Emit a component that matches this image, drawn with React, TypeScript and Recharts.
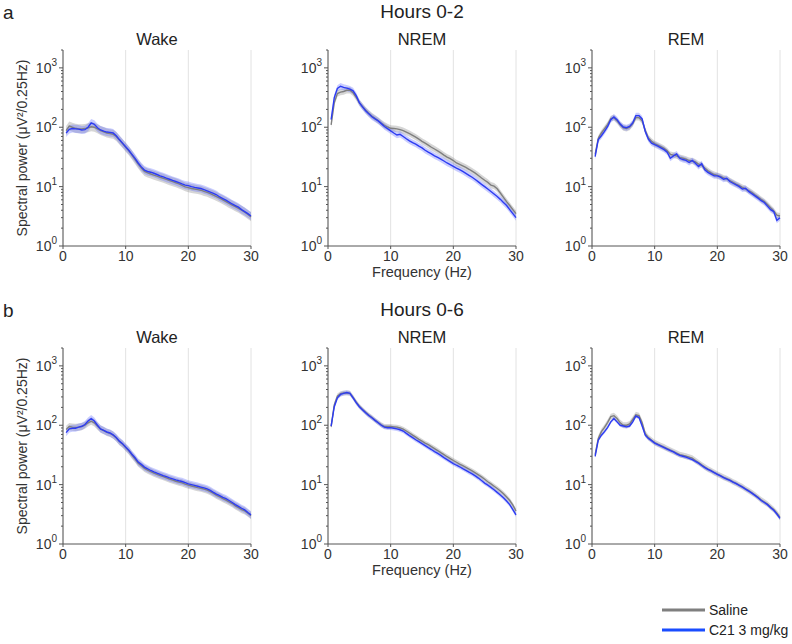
import React from "react";
import {
  ComposedChart,
  Line,
  Area,
  XAxis,
  YAxis,
  CartesianGrid,
} from "recharts";

// frequency bins (Hz)
const freqs = [
  0.5, 1, 1.5, 2, 2.5, 3, 3.5, 4, 4.5, 5,
  5.5, 6, 6.5, 7, 7.5, 8, 8.5, 9, 9.5, 10,
  10.5, 11, 11.5, 12, 12.5, 13, 13.5, 14, 14.5, 15,
  15.5, 16, 16.5, 17, 17.5, 18, 18.5, 19, 19.5, 20,
  20.5, 21, 21.5, 22, 22.5, 23, 23.5, 24, 24.5, 25,
  25.5, 26, 26.5, 27, 27.5, 28, 28.5, 29, 29.5, 30,
];

// Hours 0-2
const wakeSaline02 = [
  88, 105, 100, 96, 94, 94, 95, 98, 102, 100,
  94, 88, 84, 80, 78, 76, 70, 61, 53, 46,
  40, 34, 28.5, 24, 20.5, 18, 17, 16.3, 15.6, 15,
  14.4, 13.8, 13.2, 12.6, 12.1, 11.6, 11.1, 10.5, 9.9, 9.6,
  9.3, 9.1, 8.9, 8.7, 8.3, 8.0, 7.6, 7.2, 6.8, 6.4,
  6.0, 5.6, 5.2, 4.9, 4.6, 4.3, 4.0, 3.7, 3.4, 3.1,
];
const wakeC21_02 = [
  80, 92, 95, 94, 93, 90, 91, 100, 118, 112,
  98, 90, 86, 83, 82, 80, 72, 62, 54, 47,
  41, 35, 30, 25, 21.5, 19, 18, 17.5, 16.8, 16,
  15.2, 14.6, 13.9, 13.3, 12.7, 12.2, 11.7, 11.1, 10.6, 10.4,
  10.0, 9.7, 9.5, 9.3, 8.9, 8.5, 8.1, 7.7, 7.3, 6.7,
  6.3, 5.9, 5.5, 5.1, 4.8, 4.5, 4.1, 3.8, 3.5, 3.2,
];
const nremSaline02 = [
  110, 260, 370, 390, 400, 420, 420, 380, 320, 260,
  225, 195, 172, 155, 142, 130, 118, 108, 101, 96,
  95, 94, 91, 88, 83, 78, 73, 68, 63, 58,
  54, 50, 46, 43, 40, 37, 34, 31.5, 29.5, 27.5,
  25, 23.6, 22.3, 21, 19.6, 18.2, 16.9, 15.4, 14, 12.8,
  11.8, 10.6, 10.2, 9.2, 7.8, 6.6, 5.6, 4.8, 4.1, 3.5,
];
const nremC21_02 = [
  135, 316, 450, 490, 470, 455, 440, 410, 340, 260,
  220, 190, 168, 150, 138, 128, 115, 103, 95, 87,
  80, 74, 76, 70, 64, 59, 55, 52, 48, 45,
  41, 38, 35.5, 33, 31, 29, 27, 25, 23.5, 22,
  20.5, 19.3, 18, 16.7, 15.5, 14.4, 13.2, 12, 10.9, 10,
  9.1, 8.3, 7.5, 6.8, 6.1, 5.4, 4.8, 4.1, 3.5, 3.0,
];
const remSaline02 = [
  35, 65, 80, 95, 112, 140, 145, 128, 110, 98,
  95, 100, 115, 145, 145, 128, 88, 66, 58, 53,
  50, 47, 44, 40, 35, 34, 33, 31, 30, 29,
  27.5, 27, 26, 24, 23, 20.5, 18.5, 17, 16, 15.5,
  14.8, 14, 13.5, 12.6, 11.8, 11, 10.4, 9.7, 9.2, 8.6,
  8.0, 7.3, 6.7, 6.1, 5.6, 5.0, 4.4, 3.9, 3.3, 3.2,
];
const remC21_02 = [
  32, 62, 72, 85, 103, 134, 149, 134, 113, 101,
  98, 103, 118, 157, 157, 138, 85, 63, 54, 51,
  48, 45, 42, 38, 30, 33, 35.5, 30, 28.6, 27.6,
  25.5, 27.6, 24.8, 21.8, 24.3, 19.2, 17.4, 16.2, 15.2, 15.2,
  14.4, 13.3, 13.8, 12.2, 11.4, 10.7, 10, 9.1, 9.4, 8.3,
  7.6, 7.0, 6.4, 5.8, 5.4, 4.7, 4.1, 3.8, 2.7, 3.0,
];

// Hours 0-6
const wakeSaline06 = [
  85, 95, 93, 92, 93, 95, 100, 110, 117, 110,
  97, 86, 81, 76, 73, 68, 61, 53, 48, 42,
  37, 31.5, 27, 23, 20.8, 18.8, 17.6, 16.5, 15.6, 14.9,
  14.2, 13.6, 13, 12.4, 11.9, 11.4, 11, 10.7, 10.2, 9.8,
  9.5, 9.2, 8.9, 8.7, 8.4, 8.1, 7.6, 7.1, 6.6, 6.2,
  5.8, 5.5, 5.1, 4.8, 4.4, 4.1, 3.8, 3.6, 3.3, 3.0,
];
const wakeC21_06 = [
  75, 87, 89, 89, 93, 96, 103, 118, 129, 118,
  100, 87, 82, 77, 74, 69, 62, 54, 49, 43,
  38, 32.5, 28.3, 24, 21.9, 19.7, 18.5, 17.3, 16.4, 15.6,
  14.9, 14.2, 13.6, 13, 12.5, 12, 11.6, 11.3, 10.8, 10.3,
  10, 9.7, 9.4, 9.1, 8.8, 8.5, 8.0, 7.4, 6.9, 6.5,
  6.1, 5.8, 5.4, 5.0, 4.6, 4.3, 4.0, 3.75, 3.4, 3.1,
];
const nremSaline06 = [
  95, 220, 310, 340, 350, 350, 345, 295, 245, 210,
  185, 165, 148, 135, 122, 111, 102, 95, 95, 95,
  94, 93, 90, 86, 80, 74, 68, 63, 58, 54,
  50, 47, 43.5, 40.5, 37.5, 34.5, 32, 29.5, 27.5, 25.5,
  23.8, 22.2, 20.8, 19.5, 18.2, 17, 15.8, 14.6, 13.5, 12.3,
  11.2, 10.3, 9.4, 8.6, 7.8, 7.0, 6.2, 5.4, 4.5, 3.6,
];
const nremC21_06 = [
  97, 205, 290, 330, 345, 355, 345, 290, 240, 205,
  182, 162, 146, 134, 121, 110, 100, 93, 91, 91,
  89, 87, 84, 80, 73, 67, 62, 57, 53, 49,
  45.5, 42, 39, 36, 33.5, 31, 28.5, 26.4, 24.4, 22.6,
  21.2, 20, 18.6, 17.4, 16.2, 15.2, 14, 12.9, 11.7, 10.6,
  9.8, 9.0, 8.2, 7.4, 6.7, 6.0, 5.3, 4.6, 3.8, 3.1,
];
const remSaline06 = [
  32, 60, 78, 92, 112, 140, 145, 130, 110, 100,
  100, 105, 125, 150, 145, 110, 72, 62, 56, 51,
  48, 45.5, 43, 40.5, 38, 36, 34, 32, 31, 30,
  29, 28, 25.5, 23.5, 21.5, 19.8, 18.3, 17.2, 16, 15,
  14.2, 13.3, 12.6, 11.9, 11.1, 10.5, 9.8, 9.2, 8.5, 7.9,
  7.3, 6.7, 6.1, 5.5, 5.1, 4.7, 4.2, 3.8, 3.3, 2.8,
];
const remC21_06 = [
  30, 56, 68, 78, 92, 114, 130, 114, 100, 97,
  94, 97, 114, 143, 135, 97, 68, 60, 55, 50,
  47, 44.5, 42, 39.5, 37.5, 35.5, 33, 31, 30, 29,
  27.7, 26.4, 24.7, 23, 21, 19.3, 18, 17, 15.9, 14.9,
  14, 13.1, 12.4, 11.8, 11, 10.4, 9.7, 9.1, 8.4, 7.8,
  7.2, 6.6, 6.0, 5.4, 5.0, 4.6, 4.1, 3.7, 3.2, 2.7,
];

// shaded error band (multiplicative SEM) per series
const salineSem = [1.19, 1.13, 1.12, 1.15, 1.1, 1.12];
const c21Sem = [1.17, 1.13, 1.12, 1.15, 1.09, 1.07];

const stateTitles = ["Wake", "NREM", "REM"];
const rowTitles = ["Hours 0-2", "Hours 0-6"];
const rowLetters = ["a", "b"];
const xTicks = [0, 10, 20, 30];
const yMajor = [1, 10, 100, 1000];
const yTicks = [
  1, 2, 3, 4, 5, 6, 7, 8, 9,
  10, 20, 30, 40, 50, 60, 70, 80, 90,
  100, 200, 300, 400, 500, 600, 700, 800, 900,
  1000, 2000,
];

const salineSeries = [wakeSaline02, nremSaline02, remSaline02, wakeSaline06, nremSaline06, remSaline06];
const c21Series = [wakeC21_02, nremC21_02, remC21_02, wakeC21_06, nremC21_06, remC21_06];

const FONT = "'Liberation Sans', Arial, Helvetica, sans-serif";
const GREY = "#7f7f7f";
const BLUE = "#2c3bf2";
const AXIS = "#555";

const plotLefts = [63, 328, 592];
const plotTops = [50, 348];
const PLOT_W = 188;
const PLOT_H = 196;
const Y_AXIS_W = 40;

const LogTick = (props: any) => {
  const { x, y, payload } = props;
  const v = payload.value;
  const major = yMajor.includes(v);
  const len = major ? 4 : 2;
  return (
    <g>
      <line x1={x} x2={x - len} y1={y} y2={y} stroke={AXIS} strokeWidth={1} />
      {major && (
        <text x={x - 6} y={y + 5} textAnchor="end" fontSize={14} fill="#333" fontFamily={FONT}>
          10
          <tspan dy={-7} fontSize={10}>
            {Math.round(Math.log10(v))}
          </tspan>
        </text>
      )}
    </g>
  );
};

function Panel({ idx }: { idx: number }) {
  const row = Math.floor(idx / 3);
  const col = idx % 3;
  const sal = salineSeries[idx];
  const c21 = c21Series[idx];
  const ks = salineSem[idx];
  const kc = c21Sem[idx];
  const data = freqs.map((f, i) => ({
    f,
    sal: sal[i],
    c21: c21[i],
    salBand: [sal[i] / ks, sal[i] * ks],
    c21Band: [c21[i] / kc, c21[i] * kc],
  }));
  return (
    <div
      style={{
        position: "absolute",
        left: plotLefts[col] - Y_AXIS_W,
        top: plotTops[row] - 4,
      }}
    >
      <ComposedChart
        width={Y_AXIS_W + PLOT_W + 12}
        height={4 + PLOT_H + 30}
        data={data}
        margin={{ top: 4, right: 12, bottom: 0, left: 0 }}
      >
        <CartesianGrid horizontal={false} stroke="#e2e2e2" />
        <XAxis
          dataKey="f"
          type="number"
          domain={[0, 30]}
          ticks={xTicks}
          height={30}
          tickSize={3}
          stroke={AXIS}
          tick={{ fontSize: 14, fill: "#333", fontFamily: FONT }}
        />
        <YAxis
          scale="log"
          domain={[1, 2000]}
          allowDataOverflow
          ticks={yTicks}
          interval={0}
          width={Y_AXIS_W}
          tickSize={0}
          tickMargin={0}
          tickLine={false}
          stroke={AXIS}
          tick={<LogTick />}
        />
        <Area dataKey="salBand" stroke="none" fill="#8a8a8a" fillOpacity={0.35} isAnimationActive={false} />
        <Area dataKey="c21Band" stroke="none" fill="#5a66ff" fillOpacity={0.33} isAnimationActive={false} />
        <Line dataKey="sal" stroke={GREY} strokeWidth={1.4} dot={false} isAnimationActive={false} />
        <Line dataKey="c21" stroke={BLUE} strokeWidth={1.4} dot={false} isAnimationActive={false} />
      </ComposedChart>
    </div>
  );
}

export default function App() {
  return (
    <div
      style={{
        position: "absolute",
        left: 0,
        top: 0,
        width: 792,
        height: 644,
        background: "#fff",
        fontFamily: FONT,
      }}
    >
      {[0, 1, 2, 3, 4, 5].map((i) => (
        <Panel key={i} idx={i} />
      ))}
      <svg
        width={792}
        height={644}
        style={{ position: "absolute", left: 0, top: 0, pointerEvents: "none" }}
        fontFamily={FONT}
      >
        {rowTitles.map((t, r) => {
          const off = plotTops[r] - plotTops[0];
          return (
            <g key={t}>
              <text x={3} y={19 + off} fontSize={19} fill="#222">
                {rowLetters[r]}
              </text>
              <text x={plotLefts[1] + PLOT_W / 2} y={18 + off} fontSize={19} fill="#222" textAnchor="middle">
                {t}
              </text>
              {stateTitles.map((s, c) => (
                <text key={s} x={plotLefts[c] + PLOT_W / 2} y={45 + off} fontSize={16.5} fill="#222" textAnchor="middle">
                  {s}
                </text>
              ))}
              <text x={plotLefts[1] + PLOT_W / 2} y={277 + off} fontSize={14.5} fill="#333" textAnchor="middle">
                Frequency (Hz)
              </text>
              <text
                x={27}
                y={plotTops[r] + PLOT_H / 2}
                transform={`rotate(-90 27 ${plotTops[r] + PLOT_H / 2})`}
                fontSize={14}
                fill="#333"
                textAnchor="middle"
              >
                Spectral power (μV²/0.25Hz)
              </text>
            </g>
          );
        })}
        <line x1={662} x2={705} y1={610} y2={610} stroke={GREY} strokeWidth={3} />
        <text x={709} y={615} fontSize={14} fill="#222">
          Saline
        </text>
        <line x1={662} x2={705} y1={630} y2={630} stroke="#1a4dff" strokeWidth={3} />
        <text x={709} y={635} fontSize={14} fill="#222">
          C21 3 mg/kg
        </text>
      </svg>
    </div>
  );
}
